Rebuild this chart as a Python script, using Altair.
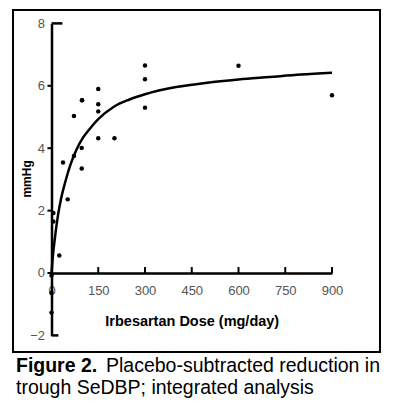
import altair as alt
import pandas as pd

FONT = "Liberation Sans"

# observed responses (dose in mg/day, placebo-subtracted reduction in mmHg)
dose = [0, 0, 0, 6, 6, 25, 37, 52, 72, 72, 97, 97, 98, 98,
        150, 150, 150, 150, 202, 300, 300, 300, 600, 900]
mmhg = [-0.08, -0.64, -1.27, 1.92, 1.65, 0.56, 3.54, 2.36, 5.03, 3.75, 4.01, 3.35, 5.54, 5.54,
        5.90, 5.41, 5.18, 4.32, 4.32, 6.65, 6.21, 5.30, 6.64, 5.70]
# the drawn fitted curve
curve_dose = [0, 5, 10, 20, 30, 45, 60, 80, 100, 125, 150, 200, 250, 300,
              400, 500, 600, 700, 800, 900]
curve_mmhg = [0, 0.6, 1.05, 1.8, 2.35, 2.95, 3.45, 3.95, 4.32, 4.65, 4.93, 5.33, 5.56, 5.73,
              5.96, 6.10, 6.20, 6.28, 6.36, 6.42]

x_ticks = [0, 150, 300, 450, 600, 750, 900]
y_ticks = [-2, 0, 2, 4, 6, 8]

caption_bold = "Figure 2."
caption_line1 = "Placebo-subtracted reduction in"
caption_line2 = "trough SeDBP; integrated analysis"

points_df = pd.DataFrame({"dose": dose, "mmhg": mmhg})
curve_df = pd.DataFrame({"dose": curve_dose, "mmhg": curve_mmhg})
xtick_df = pd.DataFrame({"dose": x_ticks[1:], "lo": 0.0, "hi": 0.19})
# short outward ticks on the y axis (not at the capped ends)
ytick_df = pd.DataFrame({"y": y_ticks[1:-1], "x1": -13.0, "x2": 0.0})
caps_df = pd.DataFrame({"y": [8, -2], "x1": [0, 0], "x2": [35, 22]})

xs = alt.Scale(domain=[0, 900], nice=False, zero=False)
ys = alt.Scale(domain=[-2, 8], nice=False, zero=False)

x_axis = alt.Axis(values=x_ticks, title="Irbesartan Dose (mg/day)", grid=False,
                  ticks=False, tickSize=0, offset=-62.4, labelPadding=12,
                  titlePadding=17, domainColor="black", domainWidth=2.5,
                  labelColor="#555555", labelFontSize=13, labelFont=FONT,
                  titleFont=FONT, titleFontSize=14.5, titleFontWeight="bold",
                  titleColor="black", labelFlush=False)
y_axis = alt.Axis(values=y_ticks, title="mmHg", grid=False, ticks=False, tickSize=0,
                  labelPadding=7, titleX=-18, titleY=155,
                  domainColor="black", domainWidth=2.5, labelColor="#555555",
                  labelFontSize=13, labelFont=FONT, titleFont=FONT, titleFontSize=12,
                  titleFontWeight="bold", titleColor="black", labelFlush=False)

points = alt.Chart(points_df).mark_circle(size=20, color="black", opacity=1).encode(
    x=alt.X("dose:Q", scale=xs, axis=x_axis),
    y=alt.Y("mmhg:Q", scale=ys, axis=y_axis),
)

curve = alt.Chart(curve_df).mark_line(color="black", strokeWidth=2.5,
                                      interpolate="monotone").encode(
    x=alt.X("dose:Q", scale=xs),
    y=alt.Y("mmhg:Q", scale=ys),
)

# x ticks point up from the zero line
xticks = alt.Chart(xtick_df).mark_rule(color="black", strokeWidth=2).encode(
    x=alt.X("dose:Q", scale=xs),
    y=alt.Y("lo:Q", scale=ys),
    y2="hi:Q",
)

yticks = alt.Chart(ytick_df).mark_rule(color="black", strokeWidth=2).encode(
    x=alt.X("x1:Q", scale=xs),
    x2="x2:Q",
    y=alt.Y("y:Q", scale=ys),
)

# end caps of the y axis
caps = alt.Chart(caps_df).mark_rule(color="black", strokeWidth=2.5).encode(
    x=alt.X("x1:Q", scale=xs),
    x2="x2:Q",
    y=alt.Y("y:Q", scale=ys),
)

one = pd.DataFrame({"a": [0]})
frame = alt.Chart(one).mark_rect(
    fillOpacity=0, stroke="black", strokeWidth=2).encode(
    x=alt.value(-38.5), x2=alt.value(328.5),
    y=alt.value(-13.4), y2=alt.value(328.6),
)

cap1 = alt.Chart(one).mark_text(text=caption_bold, font=FONT, fontSize=19.5,
                                fontWeight="bold", align="left",
                                baseline="alphabetic").encode(
    x=alt.value(-35.5), y=alt.value(349))
cap2 = alt.Chart(one).mark_text(text=caption_line1, font=FONT, fontSize=19.5,
                                align="left", baseline="alphabetic").encode(
    x=alt.value(54.5), y=alt.value(349))
cap3 = alt.Chart(one).mark_text(text=caption_line2, font=FONT, fontSize=19.5,
                                align="left", baseline="alphabetic").encode(
    x=alt.value(-35.5), y=alt.value(371))

chart = alt.layer(frame, curve, points, xticks, yticks, caps, cap1, cap2, cap3).properties(
    width=280.5, height=312,
    padding={"left": 43.5, "top": 15.4, "right": 60, "bottom": 64},
    autosize=alt.AutoSizeParams(type="none"),
).configure_view(stroke=None)

chart.save("out.html", embed_options={"renderer": "svg", "actions": False})
